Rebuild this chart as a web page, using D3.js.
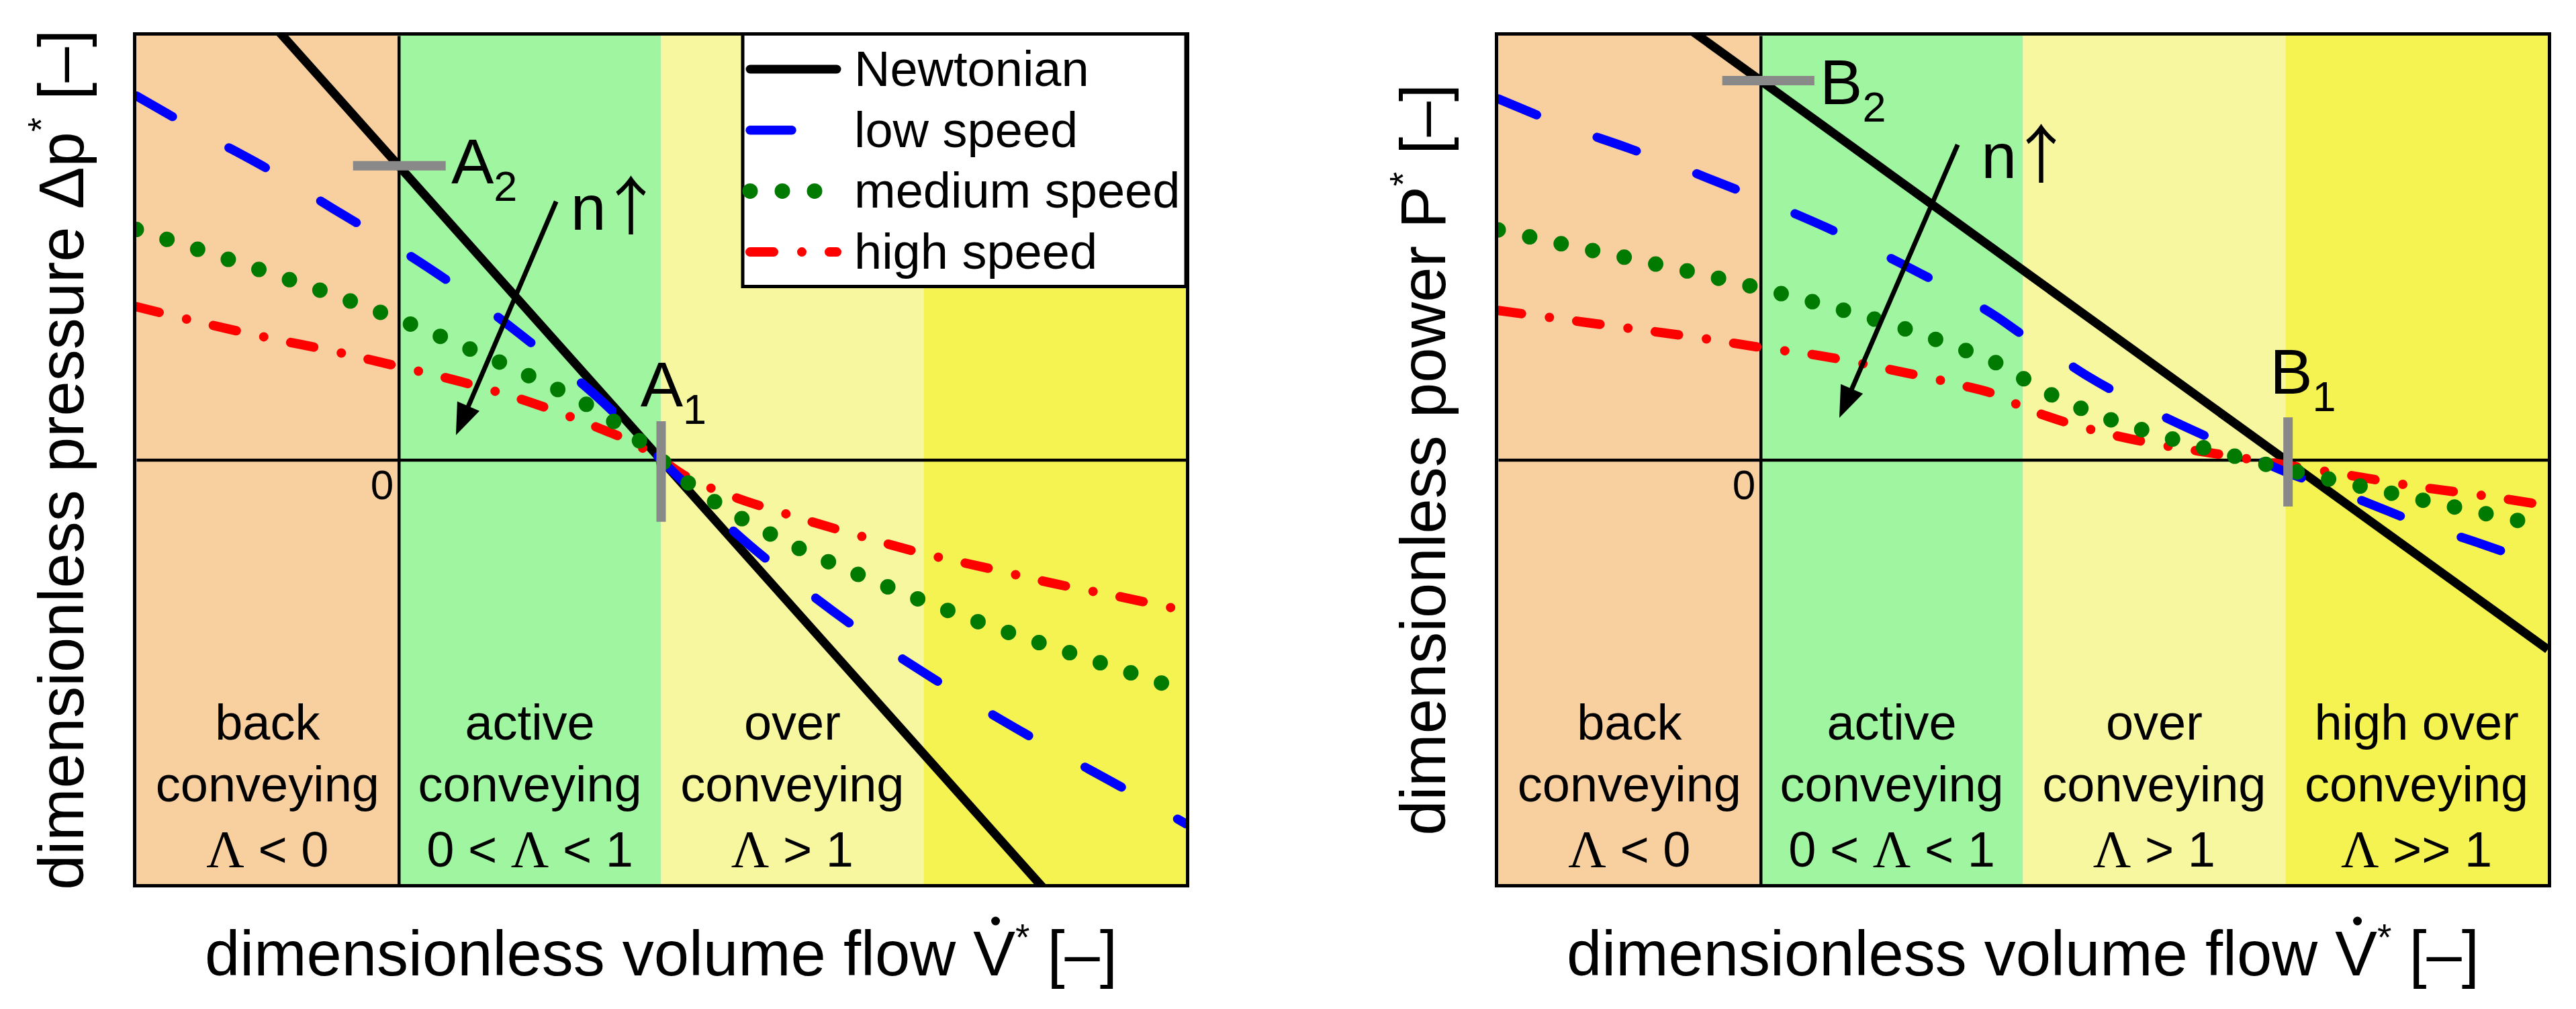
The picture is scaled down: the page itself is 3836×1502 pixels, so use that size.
<!DOCTYPE html>
<html>
<head>
<meta charset="utf-8">
<script src="https://cdn.jsdelivr.net/npm/d3@7"></script>
<style>
  @font-face {
    font-family: "ArrowGlyph";
    src: local("Noto Sans CJK JP"), local("Noto Sans CJK JP Regular"), local("NotoSansCJKjp-Regular"), local("NotoSansCJK-Regular"), local("Noto Sans CJK SC"), local("Noto Sans CJK SC Regular");
    unicode-range: U+2191;
  }
  html, body { margin: 0; padding: 0; background: #ffffff; }
  svg { display: block; }
  text { font-family: "Liberation Sans", Arial, Helvetica, sans-serif; fill: #000; }
  text.nlabel { font-family: "ArrowGlyph", "Liberation Sans", Arial, sans-serif; }
</style>
</head>
<body>
<svg id="chart" width="3836" height="1502"></svg>
<script>
// ---------------- DATA ----------------
const zoneBounds = [-1, 0, 1, 2, 3];
const zoneTitles = [["back", "conveying"], ["active", "conveying"], ["over", "conveying"], ["high over", "conveying"]];
const zoneConditions = ["Λ < 0", "0 < Λ < 1", "Λ > 1", "Λ >> 1"];
const seriesNames = ["Newtonian", "low speed", "medium speed", "high speed"];

// dimensionless volume flow grid (x)
const flowGrid = [-1, -0.75, -0.5, -0.25, 0, 0.25, 0.5, 0.75, 0.9, 1, 1.1, 1.25, 1.5, 1.75, 2, 2.25, 2.5, 2.75, 3];

// left chart: dimensionless pressure
const newtonFlow = [-1, 3];
const newtonPressure = [1.386, -1.386];
const lowPressure = [0.858, 0.770, 0.686, 0.592, 0.498, 0.395, 0.278, 0.152, 0.063, 0, -0.061, -0.153, -0.283, -0.399, -0.501, -0.596, -0.685, -0.770, -0.858];
const mediumPressure = [0.543, 0.493, 0.442, 0.389, 0.331, 0.267, 0.197, 0.118, 0.054, 0, -0.053, -0.117, -0.201, -0.270, -0.333, -0.391, -0.443, -0.494, -0.545];
const highPressure = [0.361, 0.323, 0.288, 0.256, 0.220, 0.182, 0.136, 0.078, 0.038, 0, -0.041, -0.081, -0.132, -0.178, -0.221, -0.256, -0.292, -0.323, -0.356];

// right chart: dimensionless power
const newtonPower = [1.341, -0.447];
const lowPower = [0.851, 0.788, 0.734, 0.676, 0.614, 0.548, 0.474, 0.392, 0.337, 0.294, 0.256, 0.196, 0.113, 0.041, -0.028, -0.086, -0.147, -0.199, -0.254];
const mediumPower = [0.542, 0.508, 0.475, 0.441, 0.404, 0.364, 0.319, 0.265, 0.228, 0.192, 0.156, 0.114, 0.062, 0.018, -0.022, -0.057, -0.092, -0.125, -0.158];
const highPower = [0.352, 0.331, 0.310, 0.289, 0.265, 0.243, 0.212, 0.178, 0.153, 0.124, 0.101, 0.073, 0.038, 0.013, -0.012, -0.037, -0.063, -0.084, -0.108];

// annotation points (data units)
const pointA = { p2: [0, 0.693], p1: [1, 0] };
const pointB = { p2: [0, 0.894], p1: [2.01, 0] };

// ---------------- STYLE / LAYOUT ----------------
const zoneColors = ["#F8CF9F", "#A0F5A0", "#F7F7A0", "#F5F352"];
const seriesStyle = {
  "Newtonian":    { color: "#000000", width: 13,  dash: null },
  "low speed":    { color: "#0000FF", width: 13.5, dash: "62 96" },
  "medium speed": { color: "#007A00", width: 23,  dash: "0 48" },
  "high speed":   { color: "#FF0000", width: 14,  dash: "35 42 0 41" }
};
const drawOrder = ["Newtonian", "high speed", "low speed", "medium speed"];
const plotL = 203, plotR = 1766, plotT = 53, plotB = 1316;
const panelOffset = 2028;
const FONT_AX = 94, FONT_ZONE = 74, FONT_ANN = 95;

const svg = d3.select("#chart");
svg.append("rect").attr("width", 3836).attr("height", 1502).attr("fill", "#fff");

function drawPanel(cfg, idx) {
  const g = svg.append("g").attr("transform", `translate(${cfg.ox},0)`);
  const x = d3.scaleLinear().domain([-1, 3]).range([plotL, plotR]);
  const y = d3.scaleLinear().domain([-1, 1]).range([plotB, plotT]);

  const clipId = "clip" + idx;
  g.append("clipPath").attr("id", clipId)
    .append("rect").attr("x", plotL).attr("y", plotT)
    .attr("width", plotR - plotL).attr("height", plotB - plotT);

  // zones
  const zones = d3.range(4).map(i => ({ i, x0: zoneBounds[i], x1: zoneBounds[i + 1] }));
  g.append("g").selectAll("rect").data(zones).join("rect")
    .attr("x", d => x(d.x0)).attr("y", plotT)
    .attr("width", d => x(d.x1) - x(d.x0)).attr("height", plotB - plotT)
    .attr("fill", d => zoneColors[d.i]);

  // zone labels
  const zl = g.append("g");
  zones.filter(d => d.i < cfg.zoneLabelCount).forEach(d => {
    const cx = (x(d.x0) + x(d.x1)) / 2;
    zoneTitles[d.i].forEach((t, k) => {
      zl.append("text").attr("x", cx).attr("y", 1101 + k * 92)
        .attr("text-anchor", "middle").attr("font-size", FONT_ZONE).text(t);
    });
    const cond = zl.append("text").attr("x", cx).attr("y", 1290)
      .attr("text-anchor", "middle").attr("font-size", FONT_ZONE);
    zoneConditions[d.i].split(/(Λ)/).filter(s => s.length).forEach(s => {
      const ts = cond.append("tspan").text(s);
      if (s === "Λ") ts.style("font-family", "'Liberation Serif', 'Times New Roman', serif").attr("font-size", FONT_ZONE + 4);
    });
  });

  // axes through origin
  const xAxis = g.append("g").attr("transform", `translate(0,${y(0)})`)
    .call(d3.axisBottom(x).tickValues([0]).tickSize(0).tickSizeOuter(0).tickFormat(() => "0"));
  xAxis.select(".domain").attr("stroke", "#000").attr("stroke-width", 4.5);
  xAxis.selectAll(".tick text").attr("x", -8).attr("y", 58).attr("dy", 0)
    .attr("text-anchor", "end").attr("font-size", 62)
    .attr("font-family", "'Liberation Sans', Arial, sans-serif").attr("fill", "#000");
  const yAxis = g.append("g").attr("transform", `translate(${x(0)},0)`)
    .call(d3.axisLeft(y).tickValues([]).tickSizeOuter(0));
  yAxis.select(".domain").attr("stroke", "#000").attr("stroke-width", 4.5);

  // series
  const line = d3.line().x(d => x(d[0])).y(d => y(d[1])).curve(d3.curveMonotoneX);
  const lines = g.append("g").attr("clip-path", `url(#${clipId})`);
  drawOrder.forEach(name => {
    const st = seriesStyle[name];
    const pts = name === "Newtonian"
      ? newtonFlow.map((v, i) => [v, cfg.newton[i]])
      : flowGrid.map((v, i) => [v, cfg.series[name][i]]);
    lines.append("path").attr("d", (name === "Newtonian" ? d3.line().x(d => x(d[0])).y(d => y(d[1])) : line)(pts))
      .attr("fill", "none").attr("stroke", st.color).attr("stroke-width", st.width)
      .attr("stroke-linecap", name === "Newtonian" ? "butt" : "round")
      .attr("stroke-dasharray", st.dash);
  });

  // gray marker ticks
  const gt = g.append("g").attr("stroke", "#898989").attr("stroke-width", 14);
  gt.append("line").attr("x1", x(cfg.p2[0] + cfg.p2tick[0])).attr("x2", x(cfg.p2[0] + cfg.p2tick[1]))
    .attr("y1", y(cfg.p2[1])).attr("y2", y(cfg.p2[1]));
  gt.append("line").attr("x1", x(cfg.p1[0])).attr("x2", x(cfg.p1[0]))
    .attr("y1", y(cfg.p1tick[0])).attr("y2", y(cfg.p1tick[1]));

  // point labels
  function ptLabel(letter, sub, pos) {
    const t = g.append("text").attr("x", x(pos[0])).attr("y", y(pos[1])).attr("font-size", FONT_ANN).text(letter);
    t.append("tspan").attr("font-size", 63).attr("dy", 26).text(sub);
  }
  ptLabel(cfg.letter, "2", cfg.p2label);
  ptLabel(cfg.letter, "1", cfg.p1label);

  // n-arrow
  const S = [x(cfg.arrow[0][0]), y(cfg.arrow[0][1])];
  const T = [x(cfg.arrow[1][0]), y(cfg.arrow[1][1])];
  const len = Math.hypot(T[0] - S[0], T[1] - S[1]);
  const u = [(T[0] - S[0]) / len, (T[1] - S[1]) / len];
  const hl = 47, hw = 18;
  const base = [T[0] - u[0] * hl, T[1] - u[1] * hl];
  const pp = [-u[1], u[0]];
  g.append("line").attr("x1", S[0]).attr("y1", S[1])
    .attr("x2", base[0] + u[0] * 6).attr("y2", base[1] + u[1] * 6)
    .attr("stroke", "#000").attr("stroke-width", 7);
  g.append("polygon").attr("points", [T, [base[0] + pp[0] * hw, base[1] + pp[1] * hw], [base[0] - pp[0] * hw, base[1] - pp[1] * hw]].map(p => p.join(",")).join(" "))
    .attr("fill", "#000");
  g.append("text").attr("class", "nlabel").attr("x", x(cfg.nLabel[0])).attr("y", y(cfg.nLabel[1]))
    .attr("font-size", FONT_ANN).attr("letter-spacing", -11).text("n↑");

  // legend
  if (cfg.legend) {
    const lg = g.append("g");
    lg.append("rect").attr("x", 1106).attr("y", 50.5).attr("width", 660).attr("height", 376)
      .attr("fill", "#fff").attr("stroke", "#000").attr("stroke-width", 5);
    seriesNames.forEach((name, k) => {
      const st = seriesStyle[name];
      const cy = 103 + k * 90.7;
      lg.append("path").attr("d", `M1117,${cy}H1246`)
        .attr("stroke", st.color).attr("stroke-width", st.width).attr("fill", "none")
        .attr("stroke-linecap", "round").attr("stroke-dasharray", st.dash);
      lg.append("text").attr("x", 1272).attr("y", cy + 25).attr("font-size", FONT_ZONE).text(name);
    });
  }

  // frame
  g.append("rect").attr("x", plotL - 2.5).attr("y", plotT - 2.5)
    .attr("width", plotR - plotL + 5).attr("height", plotB - plotT + 5)
    .attr("fill", "none").attr("stroke", "#000").attr("stroke-width", 5);

  // x label
  const xc = (plotL + plotR) / 2;
  const xl = g.append("text").attr("x", xc).attr("y", 1452).attr("text-anchor", "middle").attr("font-size", FONT_AX);
  const pre = "dimensionless volume flow V";
  xl.append("tspan").text(pre);
  xl.append("tspan").attr("font-size", 55).attr("dy", -38).text("*");
  xl.append("tspan").attr("dy", 38).text(" [–]");
  const ext = xl.node().getExtentOfChar(pre.length - 1);
  g.append("circle").attr("cx", ext.x + ext.width / 2 + 2).attr("cy", 1371).attr("r", 6.5).attr("fill", "#000");

  // y label
  const yl = g.append("text").attr("transform", `translate(124,${(plotT + plotB) / 2}) rotate(-90)`)
    .attr("text-anchor", "middle").attr("font-size", FONT_AX);
  yl.append("tspan").text(cfg.ylabel);
  yl.append("tspan").attr("font-size", 55).attr("dy", -44).text("*");
  yl.append("tspan").attr("dy", 44).text(" [–]");
}

drawPanel({
  ox: 0, zoneLabelCount: 3, legend: true,
  newton: newtonPressure,
  series: { "low speed": lowPressure, "medium speed": mediumPressure, "high speed": highPressure },
  letter: "A", p2: pointA.p2, p1: pointA.p1,
  p2tick: [-0.174, 0.179], p1tick: [0.091, -0.146],
  p2label: [0.2, 0.652], p1label: [0.921, 0.126],
  arrow: [[0.6, 0.609], [0.218, 0.058]], nLabel: [0.655, 0.542],
  ylabel: "dimensionless pressure Δp"
}, 0);

drawPanel({
  ox: panelOffset, zoneLabelCount: 4, legend: false,
  newton: newtonPower,
  series: { "low speed": lowPower, "medium speed": mediumPower, "high speed": highPower },
  letter: "B", p2: pointB.p2, p1: pointB.p1,
  p2tick: [-0.146, 0.205], p1tick: [0.1, -0.11],
  p2label: [0.226, 0.838], p1label: [1.941, 0.156],
  arrow: [[0.751, 0.743], [0.3, 0.099]], nLabel: [0.841, 0.664],
  ylabel: "dimensionless power P"
}, 1);
</script>
</body>
</html>
